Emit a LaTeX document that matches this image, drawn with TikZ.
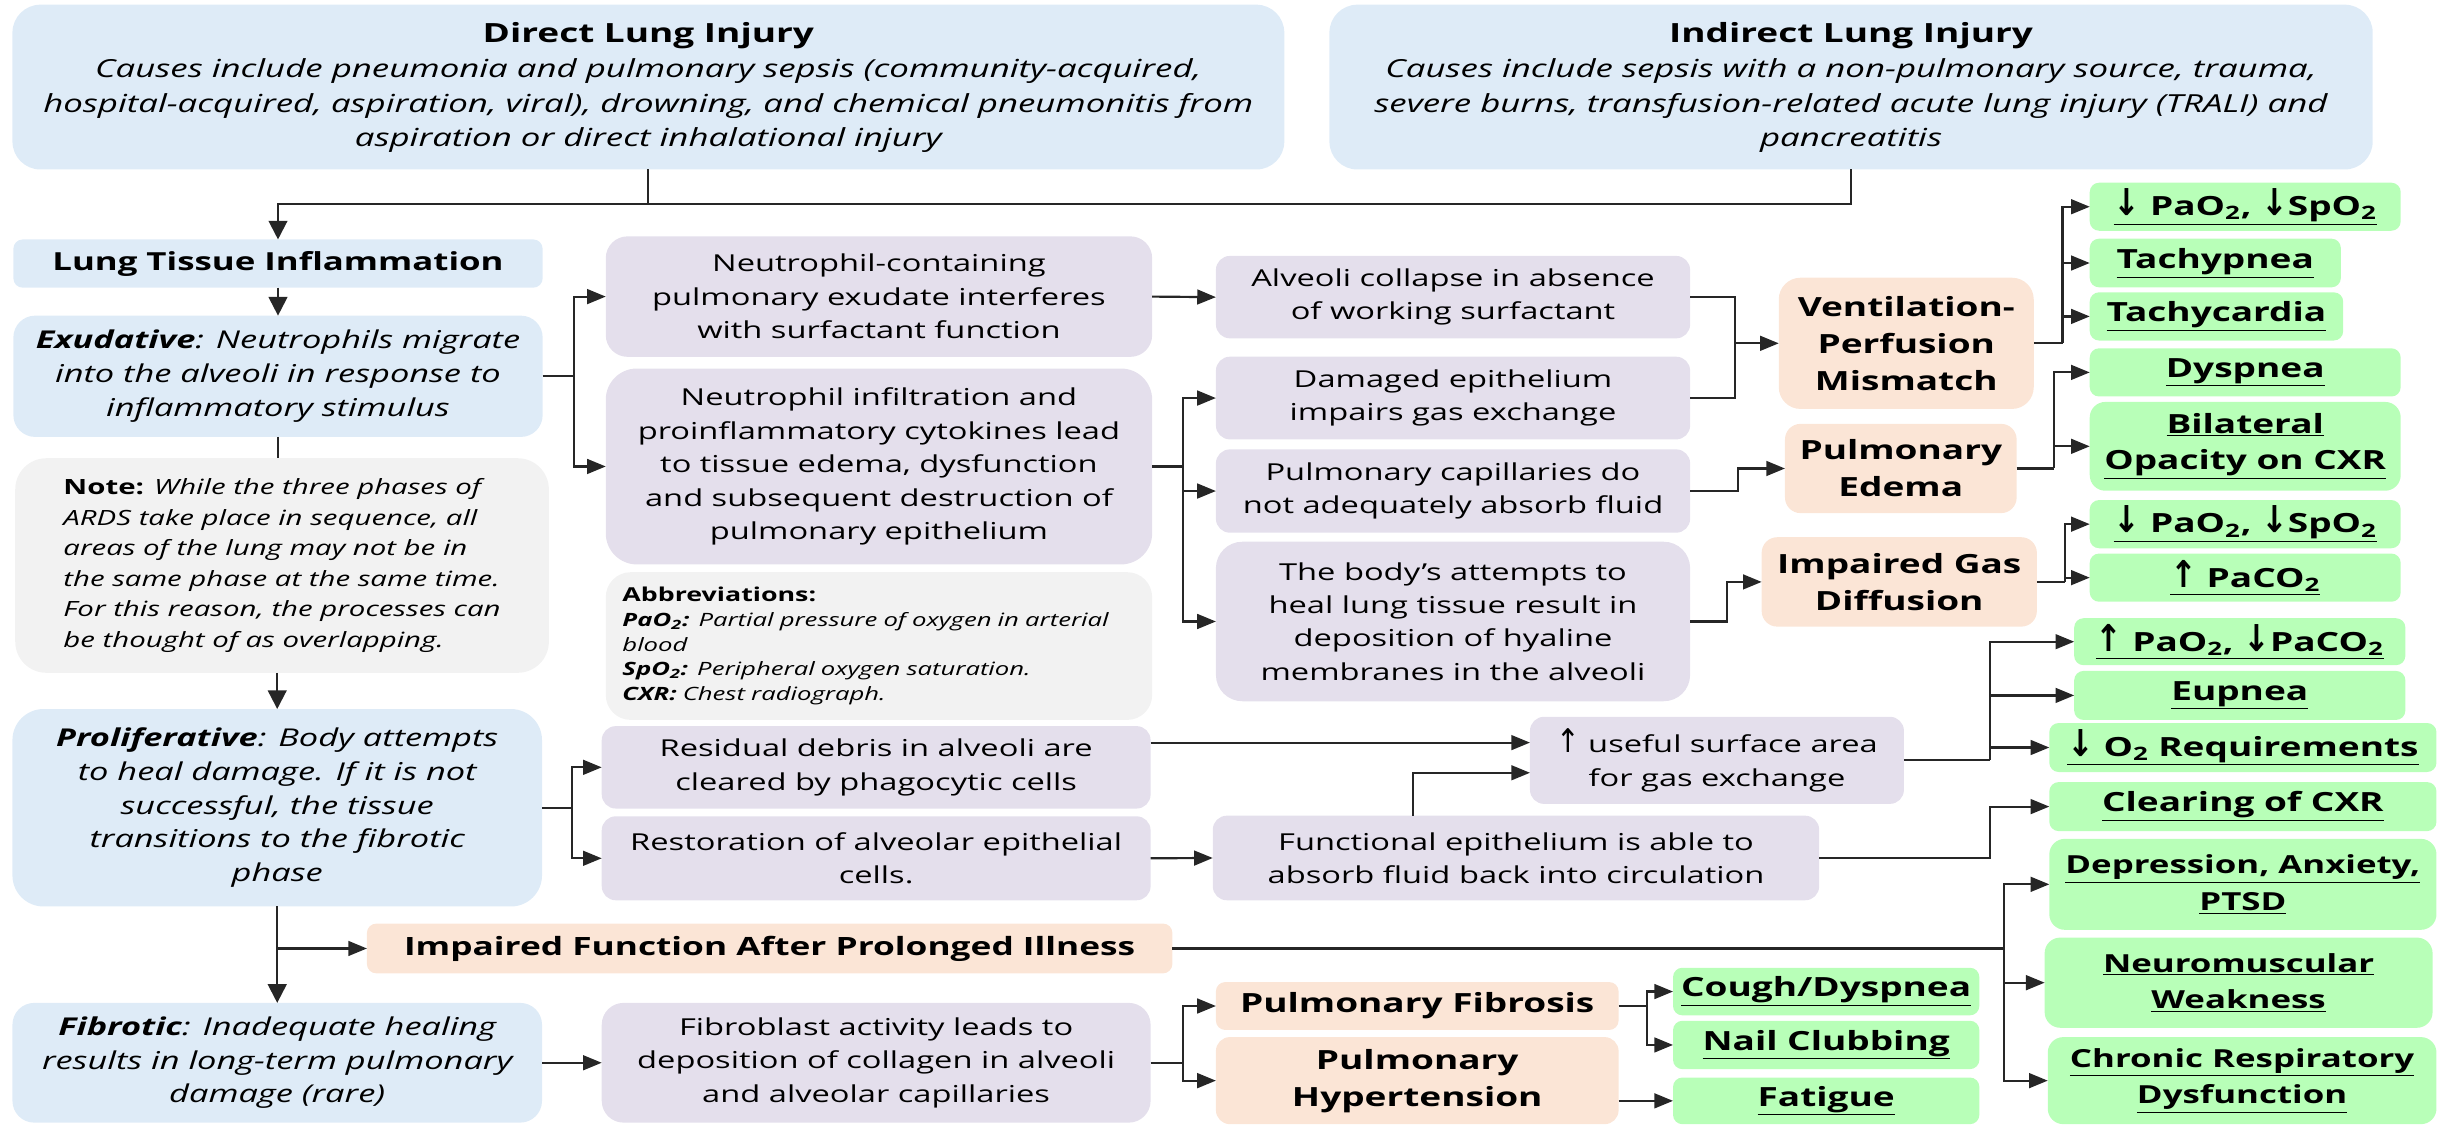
\documentclass[tikz,border=0pt]{standalone}
\usepackage{fontspec}
\setmainfont{Open Sans}[FakeStretch=1.4]
\newfontfamily\symf{DejaVu Sans}[FakeStretch=1.1]
\usetikzlibrary{arrows.meta}
\definecolor{cblue}{HTML}{DEEBF7}
\definecolor{cpurp}{HTML}{E4DFEC}
\definecolor{cgray}{HTML}{F2F2F2}
\definecolor{corange}{HTML}{FBE5D6}
\definecolor{cgreen}{HTML}{B8FFB8}
\newcommand\dnarr{{\symf\scalebox{1.1}[1.4]{\char"2193}}}
\newcommand\uparr{{\symf\scalebox{1.1}[1.4]{\char"2191}}}
\newcommand\bxn[7]{\node[#6, minimum width={(#4)-(#2)}, minimum height={(#5)-(#3)}] (#1) at ({((#2)+(#4))/2},{((#3)+(#5))/2}) {#7};}
\tikzset{
  base/.style={rectangle, inner sep=0pt, outer sep=0pt, align=center, text=black},
  bluebox/.style={base, fill=cblue},
  purpbox/.style={base, fill=cpurp, font=\fontsize{15}{21.5}\selectfont},
  graybox/.style={base, fill=cgray},
  orbox/.style={base, fill=corange, font=\fontsize{17}{23.8}\selectfont\bfseries},
  grbox/.style={base, fill=cgreen, font=\fontsize{17}{23.6}\selectfont\bfseries},
  conn/.style={draw=black!85, line width=1.4pt},
  arr/.style={conn, -{Triangle[length=12pt,width=9.5pt]}},
  varr/.style={conn, -{Triangle[length=12pt,width=12pt]}}
}
\begin{document}
\begin{tikzpicture}[x=1pt,y=-1pt]
\useasboundingbox (0,0) rectangle (1568,724);
% ---- top causes
\bxn{direct}{8}{3}{826}{109}{bluebox,rounded corners=18pt,font=\fontsize{16}{22}\selectfont\itshape}{{\fontsize{17}{20}\selectfont\bfseries\upshape Direct Lung Injury}\\[1pt]Causes include pneumonia and pulmonary sepsis (community-acquired,\\hospital-acquired, aspiration, viral), drowning, and chemical pneumonitis from\\aspiration or direct inhalational injury}
\bxn{indirect}{855}{3}{1526}{109}{bluebox,rounded corners=18pt,font=\fontsize{16}{22}\selectfont\itshape}{{\fontsize{17}{20}\selectfont\bfseries\upshape Indirect Lung Injury}\\[1pt]Causes include sepsis with a non-pulmonary source, trauma,\\severe burns, transfusion-related acute lung injury (TRALI) and\\pancreatitis}
% ---- left column
\bxn{lti}{8.6}{154}{349}{185}{bluebox,rounded corners=6pt,font=\fontsize{16}{22}\selectfont\bfseries}{Lung Tissue Inflammation}
\bxn{exud}{8.6}{203}{349}{281}{bluebox,rounded corners=14pt,font=\fontsize{15.8}{22}\selectfont\itshape}{\textbf{Exudative}: Neutrophils migrate\\into the alveoli in response to\\inflammatory stimulus}
\bxn{note}{9.8}{294.7}{353}{432.7}{graybox,rounded corners=20pt,align=left,font=\fontsize{13.5}{19.7}\selectfont\itshape}{{\bfseries\upshape Note:} While the three phases of\\ARDS take place in sequence, all\\areas of the lung may not be in\\the same phase at the same time.\\For this reason, the processes can\\be thought of as overlapping.}
\bxn{prolif}{8}{456}{348.6}{583}{bluebox,rounded corners=20pt,font=\fontsize{15.8}{21.7}\selectfont\itshape}{\textbf{Proliferative}: Body attempts\\to heal damage. If it is not\\successful, the tissue\\transitions to the fibrotic\\phase}
\bxn{fibrotic}{8}{645}{348.6}{722}{bluebox,rounded corners=14pt,font=\fontsize{15.8}{21.7}\selectfont\itshape}{\textbf{Fibrotic}: Inadequate healing\\results in long-term pulmonary\\damage (rare)}
% ---- second column
\bxn{n1}{389.6}{152}{741}{229.5}{purpbox,rounded corners=14pt}{Neutrophil-containing\\pulmonary exudate interferes\\with surfactant function}
\bxn{n2}{389.6}{237}{741}{363}{purpbox,rounded corners=20pt}{Neutrophil infiltration and\\proinflammatory cytokines lead\\to tissue edema, dysfunction\\and subsequent destruction of\\pulmonary epithelium}
\bxn{abbrev}{389.6}{368}{741}{463}{graybox,rounded corners=16pt,align=left,text width=330pt,font=\fontsize{11.8}{16}\selectfont\itshape}{{\fontsize{12.3}{16}\selectfont\bfseries\upshape Abbreviations:}\\\textbf{PaO\textsubscript{2}:} Partial pressure of oxygen in arterial\\blood\\\textbf{SpO\textsubscript{2}:} Peripheral oxygen saturation.\\\textbf{CXR:} Chest radiograph.}
\bxn{residual}{387}{467}{740}{520}{purpbox,rounded corners=9pt}{Residual debris in alveoli are\\cleared by phagocytic cells}
\bxn{restoration}{387}{525}{740}{579}{purpbox,rounded corners=9pt}{Restoration of alveolar epithelial\\cells.}
\bxn{impfunc}{236}{594}{754}{626}{orbox,rounded corners=6pt,font=\fontsize{16.2}{22}\selectfont\bfseries}{Impaired Function After Prolonged Illness}
\bxn{fibroblast}{387}{645}{740}{722}{purpbox,rounded corners=14pt}{Fibroblast activity leads to\\deposition of collagen in alveoli\\and alveolar capillaries}
% ---- third column
\bxn{alveoli}{782}{164.6}{1087}{217.6}{purpbox,rounded corners=9pt}{Alveoli collapse in absence\\of working surfactant}
\bxn{damaged}{782}{229.4}{1087}{282.6}{purpbox,rounded corners=9pt}{Damaged epithelium\\impairs gas exchange}
\bxn{pulmcap}{782}{289}{1087}{342.6}{purpbox,rounded corners=9pt}{Pulmonary capillaries do\\not adequately absorb fluid}
\bxn{bodys}{782}{348.4}{1087}{451}{purpbox,rounded corners=17pt}{The body’s attempts to\\heal lung tissue result in\\deposition of hyaline\\membranes in the alveoli}
\bxn{useful}{984}{461}{1224.5}{517}{purpbox,rounded corners=9pt}{\uparr{} useful surface area\\for gas exchange}
\bxn{functional}{780}{524.6}{1170}{579}{purpbox,rounded corners=9pt}{Functional epithelium is able to\\absorb fluid back into circulation}
\bxn{pfib}{782}{631.6}{1041}{662.4}{orbox,rounded corners=6pt}{Pulmonary Fibrosis}
\bxn{phyp}{782}{667}{1041}{723}{orbox,rounded corners=9pt}{Pulmonary\\Hypertension}
% ---- orange column
\bxn{vpm}{1144}{178.6}{1308}{263}{orbox,rounded corners=14pt}{Ventilation-\\Perfusion\\Mismatch}
\bxn{edema}{1148}{272.6}{1297}{330}{orbox,rounded corners=10pt}{Pulmonary\\Edema}
\bxn{igd}{1133}{345.5}{1310}{403}{orbox,rounded corners=10pt}{Impaired Gas\\Diffusion}
% ---- green outcomes
\bxn{gA}{1344}{117.5}{1544}{148.4}{grbox,rounded corners=6pt}{\underline{\dnarr\ PaO\textsubscript{2}, \dnarr SpO\textsubscript{2}}}
\bxn{gB}{1344}{153.5}{1505.5}{184.8}{grbox,rounded corners=6pt}{\underline{Tachypnea}}
\bxn{gC}{1344}{188}{1507}{219}{grbox,rounded corners=6pt}{\underline{Tachycardia}}
\bxn{gD}{1344}{224}{1544}{255}{grbox,rounded corners=6pt}{\underline{Dyspnea}}
\bxn{gE}{1344}{258.5}{1544}{315.6}{grbox,rounded corners=10pt}{\underline{Bilateral}\\\underline{Opacity on CXR}}
\bxn{gF}{1344}{321.6}{1544}{352.6}{grbox,rounded corners=6pt}{\underline{\dnarr\ PaO\textsubscript{2}, \dnarr SpO\textsubscript{2}}}
\bxn{gG}{1344}{356}{1544}{387}{grbox,rounded corners=6pt}{\underline{\uparr\ PaCO\textsubscript{2}}}
\bxn{gH}{1334}{397.6}{1547}{427.8}{grbox,rounded corners=6pt}{\underline{\uparr\ PaO\textsubscript{2}, \dnarr PaCO\textsubscript{2}}}
\bxn{gI}{1334}{431.5}{1547}{463}{grbox,rounded corners=6pt}{\underline{Eupnea}}
\bxn{gJ}{1318}{465}{1567}{496.5}{grbox,rounded corners=6pt}{\underline{\dnarr\ O\textsubscript{2} Requirements}}
\bxn{gK}{1318}{503}{1567}{534.5}{grbox,rounded corners=6pt}{\underline{Clearing of CXR}}
\bxn{gL}{1318}{539.5}{1567}{598}{grbox,rounded corners=10pt,font=\fontsize{16}{23.6}\selectfont\bfseries}{\underline{Depression, Anxiety,}\\\underline{PTSD}}
\bxn{gM}{1315}{603}{1564.5}{661}{grbox,rounded corners=10pt,font=\fontsize{16}{23.6}\selectfont\bfseries}{\underline{Neuromuscular}\\\underline{Weakness}}
\bxn{gN}{1317}{667}{1567}{723}{grbox,rounded corners=10pt,font=\fontsize{16}{23.6}\selectfont\bfseries}{\underline{Chronic Respiratory}\\\underline{Dysfunction}}
\bxn{gO}{1076}{622.4}{1273}{653}{grbox,rounded corners=6pt}{\underline{Cough/Dyspnea}}
\bxn{gP}{1076}{656.5}{1273}{687.6}{grbox,rounded corners=6pt}{\underline{Nail Clubbing}}
\bxn{gQ}{1076}{693}{1273}{723}{grbox,rounded corners=6pt}{\underline{Fatigue}}
% ---- connectors
\draw[conn] (direct.south) -- ++(0,22);
\draw[varr] (indirect.south) -- ++(0,22) -| (lti.north);
\draw[varr] (lti.south) -- (exud.north);
\draw[conn] (exud.south) -- (exud.south |- note.north);
\draw[varr] (prolif.north |- note.south) -- (prolif.north);
\draw[varr] (prolif.south) -- (fibrotic.north);
\draw[arr] (prolif.south |- impfunc.west) -- (impfunc.west);
\draw[conn] (exud.east) -- ++(20,0) coordinate (b1);
\draw[arr] (b1) |- (n1.west);
\draw[arr] (b1) |- (n2.west);
\draw[arr] (n1.east) -- (alveoli.west);
\draw[conn] (n2.east) -- ++(20,0) coordinate (b2);
\draw[arr] (b2) |- (damaged.west);
\draw[arr] (b2) |- (pulmcap.west);
\draw[arr] (b2) |- (bodys.west);
\draw[conn] (alveoli.east) -- ++(29,0) coordinate (b3) |- (damaged.east);
\draw[arr] (b3 |- vpm.west) -- (vpm.west);
\draw[arr] (pulmcap.east) -- ++(31,0) |- (edema.west);
\draw[arr] (bodys.east) -- ++(23.5,0) |- (igd.west);
\draw[conn] (vpm.east) -- ++(18.5,0) coordinate (b4);
\draw[arr] (b4) |- (gA.west);
\draw[arr] (b4) |- (gB.west);
\draw[arr] (b4) |- (gC.west);
\draw[conn] (edema.east) -- ++(24,0) coordinate (b5);
\draw[arr] (b5) |- (gD.west);
\draw[arr] (b5) |- (gE.west);
\draw[conn] (igd.east) -- ++(18,0) coordinate (b6);
\draw[arr] (b6) |- (gF.west);
\draw[arr] (b6) |- (gG.west);
\draw[conn] (prolif.east) -- ++(19.5,0) coordinate (b7);
\draw[arr] (b7) |- (residual.west);
\draw[arr] (b7) |- (restoration.west);
\coordinate (u1) at ([yshift=11.4pt]useful.west);
\coordinate (u2) at ([yshift=-8pt]useful.west);
\draw[arr] (residual.east |- u1) -- (u1);
\draw[arr] ([xshift=-66pt]functional.north) |- (u2);
\draw[arr] (restoration.east) -- (functional.west);
\draw[conn] (useful.east) -- ++(55.5,0) coordinate (b8);
\draw[arr] (b8) |- (gH.west);
\draw[arr] (b8) |- (gI.west);
\draw[arr] (b8) |- (gJ.west);
\draw[arr] (functional.east) -- ++(110,0) |- (gK.west);
\draw[conn] (impfunc.east) -- ++(535,0) coordinate (b9);
\draw[arr] (b9) |- (gL.west);
\draw[arr] (b9) |- (gM.west);
\draw[arr] (b9) |- (gN.west);
\draw[arr] (fibrotic.east) -- (fibroblast.west);
\draw[conn] (fibroblast.east) -- ++(21,0) coordinate (b10);
\draw[arr] (b10) |- (pfib.west);
\draw[arr] (b10) |- (phyp.west);
\draw[conn] (pfib.east) -- ++(18,0) coordinate (b11);
\draw[arr] (b11) |- (gO.west);
\draw[arr] (b11) |- (gP.west);
\draw[arr] (phyp.east |- gQ.west) -- (gQ.west);
\end{tikzpicture}
\end{document}
